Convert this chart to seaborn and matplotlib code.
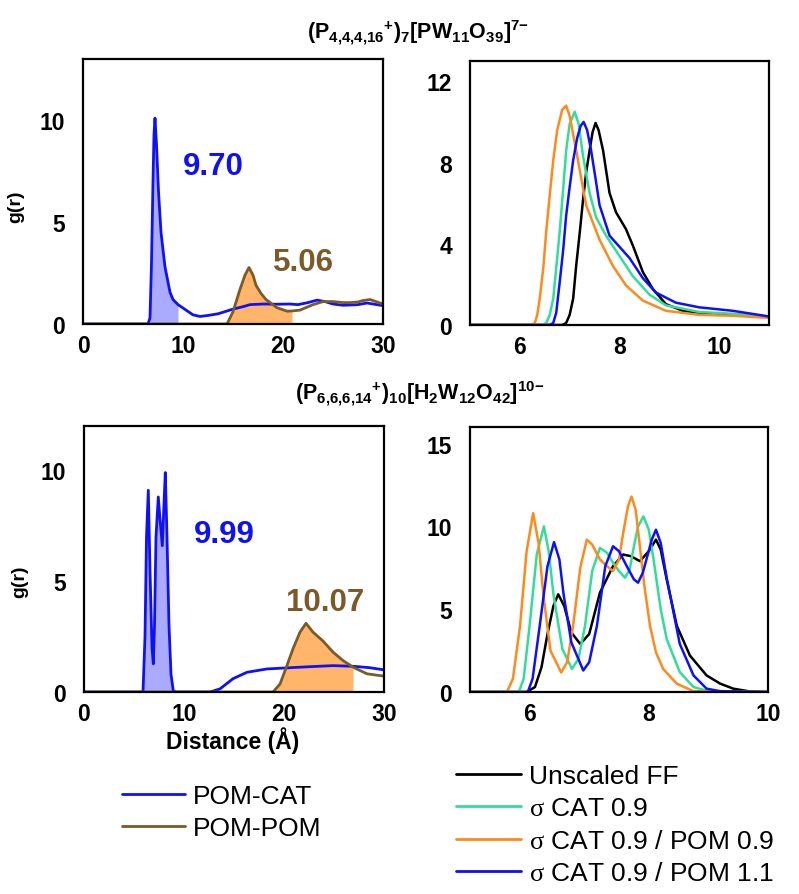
import numpy as np
import pandas as pd
import matplotlib
matplotlib.use("Agg")
import matplotlib.pyplot as plt
import seaborn as sns
from matplotlib.lines import Line2D

# ---------------- data ----------------
# top-left: (P4,4,4,16+)7[PW11O39]7-
tl_cat_x = [0, 6.5, 6.7, 6.85, 7.0, 7.1, 7.2, 7.35, 7.55, 7.8, 8.2, 8.7, 9.0, 9.5, 10.4, 11.0, 11.7,
            12.5, 13.5, 15.0, 16.0, 16.7, 18.0, 19.5, 20.7, 21.5, 22.5, 23.4, 24.2, 25.0, 26.0,
            26.7, 27.5, 28.4, 29.0, 30.0]
tl_cat_y = [0, 0, 0.3, 3.0, 7.0, 9.3, 10.1, 8.8, 6.5, 4.5, 2.8, 1.56, 1.2, 0.95, 0.65, 0.45, 0.37,
            0.42, 0.5, 0.73, 0.85, 0.95, 0.98, 0.97, 0.98, 0.95, 1.05, 1.17, 1.1, 0.98, 0.92,
            0.93, 0.95, 1.03, 0.98, 0.9]
tl_pom_x = [0, 14.4, 15.0, 15.7, 16.2, 16.6, 17.0, 17.3, 17.8, 18.3, 19.4, 20.4, 20.9, 21.7, 23.0,
            24.0, 25.0, 26.0, 26.7, 27.5, 28.0, 28.7, 29.3, 30.0]
tl_pom_y = [0, 0, 0.6, 1.7, 2.4, 2.77, 2.4, 1.9, 1.5, 1.2, 0.8, 0.63, 0.64, 0.68, 0.95,
            1.1, 1.1, 1.05, 1.05, 1.08, 1.15, 1.2, 1.1, 0.98]
tl_cat_cut = 9.5
tl_pom_cut = 20.9
tl_cat_cn = "9.70"
tl_pom_cn = "5.06"

tr_unscaled_x = [5, 6.85, 6.93, 7.0, 7.07, 7.13, 7.2, 7.27, 7.33, 7.4, 7.46, 7.52, 7.58, 7.67, 7.8,
                 7.93, 8.13, 8.27, 8.47, 8.67, 8.93, 9.27, 9.6, 10.0, 10.5, 11.0]
tr_unscaled_y = [0, 0, 0.1, 0.5, 1.3, 2.9, 4.5, 6.2, 7.5, 8.6, 9.5, 9.95, 9.6, 8.6, 6.5,
                 5.55, 4.72, 3.9, 2.6, 1.77, 1.03, 0.7, 0.6, 0.55, 0.48, 0.4]
tr_cat09_x = [5, 6.45, 6.53, 6.6, 6.67, 6.73, 6.8, 6.87, 6.93, 7.0, 7.1, 7.18, 7.27, 7.4, 7.53,
              7.73, 8.0, 8.27, 8.6, 8.93, 9.6, 10.3, 11.0]
tr_cat09_y = [0, 0, 0.1, 0.5, 1.3, 2.8, 4.6, 6.7, 8.6, 9.9, 10.5, 9.9, 8.3, 6.5, 5.3,
              4.4, 3.4, 2.4, 1.5, 0.97, 0.64, 0.55, 0.4]
tr_pom09_x = [5, 6.22, 6.3, 6.35, 6.4, 6.47, 6.53, 6.6, 6.67, 6.75, 6.85, 6.93, 7.0, 7.13, 7.33,
              7.6, 7.87, 8.13, 8.47, 8.93, 9.6, 10.3, 11.0]
tr_pom09_y = [0, 0, 0.1, 0.5, 1.3, 2.8, 4.6, 6.4, 8.1, 9.6, 10.6, 10.8, 10.3, 8.6, 5.9,
              4.2, 2.9, 1.95, 1.2, 0.7, 0.5, 0.45, 0.35]
tr_pom11_x = [5, 6.6, 6.67, 6.73, 6.8, 6.87, 6.93, 7.0, 7.07, 7.15, 7.22, 7.28, 7.35, 7.43, 7.52,
              7.6, 7.8, 8.0, 8.2, 8.47, 8.73, 9.13, 9.6, 10.27, 11.0]
tr_pom11_y = [0, 0, 0.1, 0.6, 2.1, 3.7, 5.4, 6.8, 8.1, 9.2, 9.8, 10.0, 9.6, 8.6, 7.2,
              5.9, 4.4, 3.85, 3.3, 2.3, 1.6, 1.1, 0.87, 0.7, 0.42]

# bottom-left: (P6,6,6,14+)10[H2W12O42]10-
bl_cat_x = [0, 5.9, 6.1, 6.25, 6.43, 6.6, 6.8, 6.93, 7.05, 7.2, 7.43, 7.6, 7.83, 8.0, 8.13, 8.3,
            8.5, 8.7, 8.93, 9.2, 12.6, 13.6, 14.9, 16.3, 18.3, 21.6, 24.9, 26.9, 28.5, 30.0]
bl_cat_y = [0, 0, 2.5, 7.0, 9.1, 5.5, 2.0, 1.27, 3.0, 7.0, 8.8, 7.8, 6.6, 8.5, 9.9, 7.0,
            3.0, 0.8, 0.05, 0, 0, 0.14, 0.6, 0.89, 1.04, 1.12, 1.19, 1.16, 1.1, 1.0]
bl_pom_x = [0, 18.9, 19.6, 20.3, 20.9, 21.6, 22.2, 22.9, 23.9, 24.9, 25.9, 26.9, 28.3, 29.6, 30.0]
bl_pom_y = [0, 0, 0.36, 1.2, 1.95, 2.7, 3.1, 2.7, 2.3, 1.8, 1.42, 1.12, 0.82, 0.74, 0.72]
bl_cat_cut = 9.2
bl_pom_cut = 26.9
bl_cat_cn = "9.99"
bl_pom_cn = "10.07"

br_unscaled_x = [5, 5.95, 6.09, 6.2, 6.3, 6.4, 6.48, 6.58, 6.7, 6.85, 7.0, 7.18, 7.4, 7.57, 7.7,
                 7.85, 8.0, 8.12, 8.2, 8.3, 8.47, 8.69, 8.97, 9.2, 9.42, 9.7, 10.0]
br_unscaled_y = [0, 0, 0.3, 1.5, 3.5, 5.2, 5.9, 5.2, 3.6, 2.9, 3.5, 6.0, 7.6, 8.3, 8.2,
                 7.9, 8.5, 9.2, 8.6, 6.8, 4.0, 2.2, 1.0, 0.5, 0.2, 0.03, 0]
br_cat09_x = [5, 5.82, 5.9, 6.0, 6.12, 6.24, 6.32, 6.4, 6.55, 6.71, 6.82, 6.93, 7.05, 7.18, 7.3,
              7.4, 7.5, 7.6, 7.68, 7.74, 7.82, 7.91, 8.0, 8.08, 8.2, 8.3, 8.52, 8.75, 9.0, 10]
br_cat09_y = [0, 0, 0.8, 4.0, 8.3, 10.0, 8.5, 5.9, 2.6, 1.4, 2.0, 4.0, 7.3, 8.7, 8.4,
              7.8, 7.3, 6.9, 7.4, 8.6, 10.0, 10.6, 9.8, 8.0, 5.0, 3.2, 1.2, 0.3, 0.05, 0]
br_pom09_x = [5, 5.62, 5.72, 5.84, 5.95, 6.06, 6.15, 6.23, 6.35, 6.53, 6.63, 6.73, 6.85, 6.96,
              7.05, 7.18, 7.3, 7.4, 7.5, 7.57, 7.65, 7.71, 7.78, 7.85, 7.93, 8.02, 8.12, 8.24,
              8.47, 8.75, 10]
br_pom09_y = [0, 0, 0.8, 4.0, 8.5, 10.8, 9.0, 5.9, 2.5, 1.18, 1.8, 4.0, 7.5, 9.2,
              8.9, 8.0, 7.6, 7.3, 8.0, 9.6, 11.2, 11.8, 11.0, 8.8, 6.3, 4.0, 2.4, 1.4,
              0.5, 0.05, 0]
br_pom11_x = [5, 5.97, 6.05, 6.17, 6.3, 6.41, 6.5, 6.57, 6.7, 6.9, 7.0, 7.13, 7.27, 7.4, 7.5,
              7.63, 7.75, 7.82, 7.9, 7.96, 8.05, 8.12, 8.2, 8.3, 8.52, 8.75, 8.97, 9.2, 10]
br_pom11_y = [0, 0, 0.8, 4.0, 7.6, 9.05, 8.0, 5.9, 3.0, 1.3, 1.8, 4.0, 7.6, 8.8, 8.5,
              7.6, 6.8, 6.6, 7.2, 8.0, 9.2, 9.8, 9.0, 6.9, 2.9, 1.0, 0.2, 0.05, 0]

title_top = r"$(P_{4{,}4{,}4{,}16}{}^{+})_{7}[PW_{11}O_{39}]^{7{-}}$"
title_bot = r"$(P_{6{,}6{,}6{,}14}{}^{+})_{10}[H_{2}W_{12}O_{42}]^{10{-}}$"
pair_labels = ["POM-CAT", "POM-POM"]
ff_labels = ["Unscaled FF", r"$\mathrm{\sigma}$ CAT 0.9",
             r"$\mathrm{\sigma}$ CAT 0.9 / POM 0.9", r"$\mathrm{\sigma}$ CAT 0.9 / POM 1.1"]

# ---------------- style ----------------
C_CAT = "#1010F8"
C_POM = "#7A5A28"
F_CAT = "#AAAAFF"
F_POM = "#FFB66B"
C_FF = ["#000000", "#33DD99", "#FF8A1C", "#1010F8"]

sns.set_theme(style="white")
plt.rcParams["font.family"] = ["Liberation Sans", "DejaVu Sans"]
for k in ["text.color", "axes.labelcolor", "xtick.color", "ytick.color", "axes.edgecolor"]:
    plt.rcParams[k] = "black"
plt.rcParams["mathtext.fontset"] = "custom"
plt.rcParams["mathtext.rm"] = "Liberation Serif"
plt.rcParams["mathtext.bf"] = "Liberation Sans:bold"
plt.rcParams["mathtext.it"] = "Liberation Sans:bold"
plt.rcParams["mathtext.default"] = "bf"

fig = plt.figure(figsize=(7.99, 8.95), dpi=100)
W, H = 799.0, 895.0


def add_ax(x0, y0, x1, y1):
    return fig.add_axes([x0 / W, 1 - y1 / H, (x1 - x0) / W, (y1 - y0) / H])


ax_tl = add_ax(83, 60, 383, 325)
ax_tr = add_ax(470, 62, 769, 326)
ax_bl = add_ax(84, 427, 384, 693)
ax_br = add_ax(470, 428, 768, 693)


def style(ax, xlim, ylim, xticks, yticks):
    ax.set_xlim(*xlim)
    ax.set_ylim(*ylim)
    ax.set_xticks(xticks)
    ax.set_yticks(yticks)
    ax.tick_params(axis="both", length=0, labelsize=16.5, colors="black")
    ax.tick_params(axis="x", pad=7)
    ax.tick_params(axis="y", pad=13)
    for lab in ax.get_xticklabels() + ax.get_yticklabels():
        lab.set_fontweight("bold")
    for sp in ax.spines.values():
        sp.set_visible(True)
        sp.set_color("black")
        sp.set_linewidth(1.6)
    ax.set_xlabel("")
    ax.set_ylabel("")
    ax.grid(False)


def line(ax, x, y, c, lw):
    df = pd.DataFrame({"x": x, "y": y})
    sns.lineplot(data=df, x="x", y="y", ax=ax, color=c, linewidth=lw,
                 estimator=None, sort=False)


def fill(ax, x, y, cut, c):
    x = np.asarray(x, float)
    y = np.asarray(y, float)
    ax.fill_between(x, 0, y, where=x <= cut, color=c, linewidth=0, zorder=1)


# left panels
for ax, cx, cy, px, py, ccut, pcut, ccn, pcn, cpos, ppos, ylim in [
    (ax_tl, tl_cat_x, tl_cat_y, tl_pom_x, tl_pom_y, tl_cat_cut, tl_pom_cut,
     tl_cat_cn, tl_pom_cn, (13.0, 7.75), (22.0, 3.05), (0, 13)),
    (ax_bl, bl_cat_x, bl_cat_y, bl_pom_x, bl_pom_y, bl_cat_cut, bl_pom_cut,
     bl_cat_cn, bl_pom_cn, (14.0, 7.15), (24.1, 4.05), (0, 12)),
]:
    fill(ax, cx, cy, ccut, F_CAT)
    fill(ax, px, py, pcut, F_POM)
    line(ax, cx, cy, C_CAT, 2.0)
    line(ax, px, py, C_POM, 2.0)
    ax.text(*cpos, ccn, color=C_CAT, fontsize=22.5, fontweight="bold", ha="center", va="center")
    ax.text(*ppos, pcn, color=C_POM, fontsize=22.5, fontweight="bold", ha="center", va="center")
    style(ax, (0, 30), ylim, [0, 10, 20, 30], [0, 5, 10])
    ax.set_ylabel("g(r)", fontsize=14, fontweight="bold")

ax_tl.yaxis.set_label_coords(-0.197, 0.445)
ax_bl.yaxis.set_label_coords(-0.187, 0.42)
ax_bl.set_xlabel("Distance (Å)", fontsize=16.5, fontweight="bold")
ax_bl.xaxis.set_label_coords(0.497, -0.127)

# right panels
for ax, series, xlim, ylim, xt, yt in [
    (ax_tr, [(tr_unscaled_x, tr_unscaled_y), (tr_cat09_x, tr_cat09_y),
             (tr_pom09_x, tr_pom09_y), (tr_pom11_x, tr_pom11_y)],
     (5, 11), (0, 13), [6, 8, 10], [0, 4, 8, 12]),
    (ax_br, [(br_unscaled_x, br_unscaled_y), (br_cat09_x, br_cat09_y),
             (br_pom09_x, br_pom09_y), (br_pom11_x, br_pom11_y)],
     (5, 10), (0, 16), [6, 8, 10], [0, 5, 10, 15]),
]:
    for (sx, sy), c in zip(series, C_FF):
        line(ax, sx, sy, c, 1.8)
    style(ax, xlim, ylim, xt, yt)

# titles
fig.text(418 / W, 1 - 39 / H, title_top, fontsize=15.5, ha="center", va="baseline")
fig.text(420 / W, 1 - 400 / H, title_bot, fontsize=15.5, ha="center", va="baseline")

# legends
leg_font = {"family": ["Liberation Sans", "DejaVu Sans"], "size": 19}
h1 = [Line2D([], [], color=c, lw=2.0) for c in [C_CAT, C_POM]]
fig.legend(h1, pair_labels, loc="upper left", bbox_to_anchor=(122 / W, 1 - 785 / H),
           frameon=False, borderpad=0, borderaxespad=0, handlelength=2.4,
           handletextpad=0.3, labelspacing=0.32, prop=leg_font)
h2 = [Line2D([], [], color=c, lw=2.0) for c in C_FF]
fig.legend(h2, ff_labels, loc="upper left", bbox_to_anchor=(456 / W, 1 - 765 / H),
           frameon=False, borderpad=0, borderaxespad=0, handlelength=2.45,
           handletextpad=0.3, labelspacing=0.32, prop=leg_font)

fig.savefig("out.png", dpi=100)
